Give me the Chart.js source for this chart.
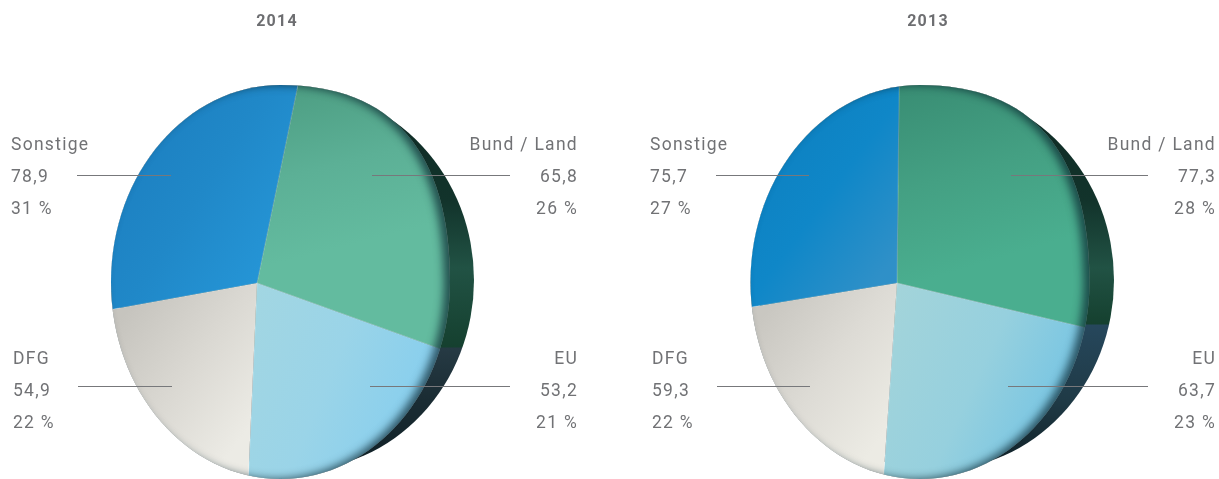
<!DOCTYPE html>
<html><head><meta charset="utf-8">
<script src="https://cdn.jsdelivr.net/npm/chart.js@4"></script>
<style>
html,body{margin:0;padding:0;background:#fff;overflow:hidden;width:1219px;height:479px}
canvas{position:absolute;top:0}
</style></head><body>
<canvas id="c14" width="600" height="479" style="left:-23px;width:600px;height:479px"></canvas>
<canvas id="c13" width="582" height="479" style="left:637px;width:582px;height:479px"></canvas>
<script>
const categories = ['Bund / Land','EU','DFG','Sonstige'];
const values2014 = [65.8,53.2,54.9,78.9];
const percent2014 = [26,21,22,31];
const values2013 = [77.3,63.7,59.3,75.7];
const percent2013 = [28,23,22,27];

const TEXT='#717275';
const FONT='Roboto,sans-serif';
const fmt=v=>v.toFixed(1).replace('.',',');
const centre=c=>({x:(c.chartArea.left+c.chartArea.right)/2,y:(c.chartArea.top+c.chartArea.bottom)/2});

function discPath(ctx,cx,cy,rx,ry){
  const k=0.5523, ku=0.66;      // the upper right quadrant bulges a little
  ctx.moveTo(cx,cy-ry);
  ctx.bezierCurveTo(cx+rx*ku,cy-ry,cx+rx,cy-ry*ku,cx+rx,cy);
  ctx.bezierCurveTo(cx+rx,cy+ry*k,cx+rx*k,cy+ry,cx,cy+ry);
  ctx.bezierCurveTo(cx-rx*k,cy+ry,cx-rx,cy+ry*k,cx-rx,cy);
  ctx.bezierCurveTo(cx-rx,cy-ry*k,cx-rx*k,cy-ry,cx,cy-ry);
  ctx.closePath();
}

function makeChart(id,year,values,percent,g){
  const toCx=x=>x-g.left;
  const canvas=document.getElementById(id);
  const pal=(ctx,i)=>{
    const c=ctx.chart;
    if(!c.chartArea) return g.fills[i][4][1];
    const o=centre(c);
    const P=(x,y)=>[(x-g.ax)/g.sx+o.x,(y-g.ay)+o.y];
    const st=g.fills[i];
    const [x0,y0]=P(st[0],st[1]),[x1,y1]=P(st[2],st[3]);
    const gr=c.ctx.createLinearGradient(x0,y0,x1,y1);
    st[4].forEach((col,k)=>gr.addColorStop(k/(st[4].length-1),col));
    return gr;
  };
  const sphere={
    id:'sphere',
    beforeDraw(c){c.ctx.letterSpacing='1.2px';},
    beforeDatasetsDraw(c){
      const ctx=c.ctx, o=centre(c);
      // dark disc behind the pie
      ctx.save();
      ctx.beginPath();
      ctx.ellipse(toCx(g.sh.x),g.sh.y,g.sh.rx,g.sh.ry,0,0,Math.PI*2);
      const gr=ctx.createLinearGradient(0,g.sh.y-g.sh.ry,0,g.sh.y+g.sh.ry);
      const t=y=>(y-(g.sh.y-g.sh.ry))/(2*g.sh.ry);
      gr.addColorStop(0,'#0e2a24');
      gr.addColorStop(t(200),'#12332b');
      gr.addColorStop(t(268),'#215244');
      gr.addColorStop(t(g.shBreak-1),'#15402f');
      gr.addColorStop(t(g.shBreak),g.shEu[0]);
      gr.addColorStop(t(400),g.shEu[1]);
      gr.addColorStop(1,'#0f1f25');
      ctx.fillStyle=gr;ctx.fill();
      ctx.restore();
      // pie: clipped to the disc, squeezed around its apex
      ctx.save();
      ctx.beginPath();
      discPath(ctx,toCx(g.d.x),g.d.y,g.d.rx,g.d.ry);
      ctx.clip();
      ctx.translate(toCx(g.ax),g.ay);
      ctx.scale(g.sx,1);
      ctx.translate(-o.x,-o.y);
    },
    afterDatasetsDraw(c){
      const ctx=c.ctx;
      ctx.restore();
      // rounded edge shading: an inner shadow, strongest on the right
      ctx.save();
      ctx.beginPath();
      discPath(ctx,toCx(g.d.x),g.d.y,g.d.rx,g.d.ry);
      ctx.clip();
      ctx.beginPath();
      ctx.rect(-1000,-1000,3000,3000);
      discPath(ctx,toCx(g.d.x),g.d.y,g.d.rx,g.d.ry);
      ctx.fillStyle='#555f60';
      ctx.shadowColor='rgba(8,35,45,0.7)';
      ctx.shadowBlur=8;
      ctx.shadowOffsetX=-6;
      ctx.fill('evenodd');
      ctx.restore();
      // leader lines and labels
      ctx.save();
      ctx.letterSpacing='1.4px';
      ctx.fillStyle=TEXT;
      ctx.strokeStyle='#77787b';ctx.lineWidth=1.2;
      ctx.font='19px '+FONT;
      categories.forEach((name,i)=>{
        const L=g.leaders[i];
        ctx.beginPath();ctx.moveTo(toCx(L[0]),L[2]+.5);ctx.lineTo(toCx(L[1]),L[2]+.5);ctx.stroke();
        const T=g.labels[i];
        ctx.textAlign=T[1];ctx.textBaseline='alphabetic';
        [[name,0],[fmt(values[i]),32],[percent[i]+' %',64]].forEach(([s,dy])=>{
          ctx.save();
          ctx.translate(toCx(T[0]),T[2]+dy);
          ctx.scale(0.92,1);
          ctx.fillText(s,0,0);
          ctx.restore();
        });
      });
      ctx.restore();
    }
  };
  return new Chart(canvas,{
    type:'pie',
    data:{labels:categories,datasets:[{
      data:values,clip:false,radius:320,
      borderWidth:1,borderColor:'rgba(255,255,255,0.2)',
      backgroundColor:c=>pal(c,c.dataIndex)
    }]},
    options:{
      responsive:false,animation:false,rotation:g.rot,
      layout:{padding:0},
      plugins:{
        legend:{display:false},tooltip:{enabled:false},
        title:{display:true,text:year,color:'#6d6e71',
          font:{family:FONT,size:16,weight:'bold'},padding:{top:12,bottom:8}}
      }
    },
    plugins:[sphere]
  });
}

makeChart('c14','2014',values2014,percent2014,{
  left:-23,ax:257,ay:283,sx:0.86,rot:13.5,
  d:{x:280.5,y:282,rx:169.5,ry:197},
  sh:{x:296,y:280,rx:178,ry:190},shBreak:348,shEu:['#263a44','#1a2c33'],
  fills:[
    [300,90,330,250,['#4e9f84','#5cb096','#63bb9f']],
    [250,300,430,400,['#a2d6e2','#9ad4e8','#86ceee']],
    [120,320,240,440,['#c6c4be','#dad8d2','#ecebe5']],
    [130,120,280,250,['#1c7fc0','#2088c8','#2595d6']]
  ],
  leaders:[[372,510,175],[370,510,386],[78,172,386],[77,171,175]],
  labels:[[578,'right',150],[578,'right',364],[13,'left',364],[11,'left',150]]
});
makeChart('c13','2013',values2013,percent2013,{
  left:637,ax:897,ay:283,sx:0.86,rot:0.7,
  d:{x:920,y:282,rx:169.5,ry:197},
  sh:{x:936,y:280,rx:178,ry:190},shBreak:325,shEu:['#26475c','#1f3a46'],
  fills:[
    [920,90,960,270,['#3a8f75','#44a083','#4aae8f']],
    [890,300,1080,420,['#a3d4da','#96d0de','#6fc2e4']],
    [760,320,880,440,['#c9c7c1','#dddbd5','#ecebe4']],
    [770,120,900,250,['#0d80c0','#0f87c8','#2f90c8']]
  ],
  leaders:[[1011,1148,175],[1008,1148,386],[717,810,386],[716,809,175]],
  labels:[[1216,'right',150],[1216,'right',364],[652,'left',364],[650,'left',150]]
});
</script>
</body></html>
